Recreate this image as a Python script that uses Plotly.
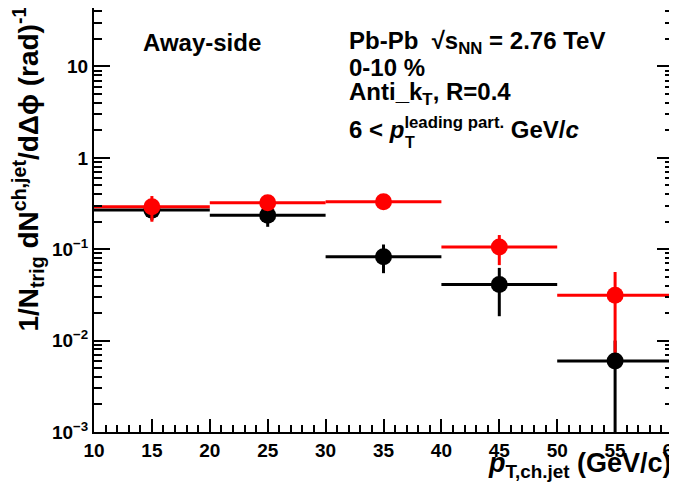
import plotly.graph_objects as go

# Data
pt_centers = [15, 25, 35, 45, 55]
pt_halfwidth = [5, 5, 5, 5, 5]

black_vals = [0.268, 0.236, 0.0827, 0.0411, 0.0060]
black_err_up = [0.07, 0.046, 0.030, 0.0214, 0.004]
black_err_dn = [0.06, 0.060, 0.028, 0.0226, 0.0059]

red_vals = [0.291, 0.322, 0.330, 0.106, 0.0314]
red_err_up = [0.091, 0.02, 0.02, 0.037, 0.025]
red_err_dn = [0.091, 0.02, 0.02, 0.039, 0.024]

y_tickvals = [1e-3, 1e-2, 1e-1, 1, 10]
y_ticktext = ["10<sup>−3</sup>", "10<sup>−2</sup>", "10<sup>−1</sup>", "1", "10"]
x_tickvals = [10, 15, 20, 25, 30, 35, 40, 45, 50, 55, 60]

y_minor = [m * 10 ** e for e in range(-3, 2) for m in range(2, 10)]
x_minor = list(range(10, 61))

FONT = "Liberation Sans, Arial, Helvetica, sans-serif"

# page has an 8px body margin: compensate so the plot frame lands where wanted
PAGE_OFF = 8
W, H = 677 - PAGE_OFF, 491 - PAGE_OFF
# desired plot frame in page pixels
PL, PR, PT, PB = 94, 673, 8, 432
L = PL - PAGE_OFF
T = PT - PAGE_OFF
R = W - (PR - PAGE_OFF)
B = H - (PB - PAGE_OFF)
pw, ph = PR - PL, PB - PT


def px(xp, yp):
    return (xp - PL) / pw, 1 - (yp - PT) / ph


fig = go.Figure()


def add_series(vals, up, dn, color):
    fig.add_trace(go.Scatter(
        x=pt_centers, y=vals, mode="markers",
        marker=dict(color=color, size=17, symbol="circle"),
        error_x=dict(type="data", array=pt_halfwidth, color=color, thickness=3, width=0),
        error_y=dict(type="data", symmetric=False, array=up, arrayminus=dn,
                     color=color, thickness=3, width=0),
        showlegend=False, cliponaxis=True,
    ))


add_series(black_vals, black_err_up, black_err_dn, "black")
add_series(red_vals, red_err_up, red_err_dn, "#ff0000")

fig.update_layout(
    width=W, height=H,
    margin=dict(l=L, r=R, t=T, b=B, autoexpand=False),
    paper_bgcolor="white", plot_bgcolor="white",
    font=dict(family=FONT, color="black"),
    showlegend=False,
)

fig.update_xaxes(
    range=[10, 60], showgrid=False, zeroline=False, automargin=False,
    showline=True, linecolor="black", linewidth=2, mirror=True,
    ticks="inside", ticklen=13, tickwidth=2, tickcolor="black",
    tickmode="array", tickvals=x_tickvals, ticktext=[f"<b>{v}</b>" for v in x_tickvals],
    tickfont=dict(size=19, family=FONT), ticklabeloverflow="allow",
    minor=dict(ticks="inside", ticklen=7, tickwidth=2, tickcolor="black",
               tickmode="array", tickvals=x_minor, showgrid=False),
)

fig.update_yaxes(
    type="log", range=[-3, 1.64], showgrid=False, zeroline=False, automargin=False,
    showline=True, linecolor="black", linewidth=2, mirror="ticks",
    ticks="inside", ticklen=16, tickwidth=2, tickcolor="black",
    tickmode="array", tickvals=y_tickvals, ticktext=[f"<b>{t}</b>" for t in y_ticktext],
    tickfont=dict(size=19, family=FONT), ticklabeloverflow="allow",
    minor=dict(ticks="inside", ticklen=8, tickwidth=2, tickcolor="black",
               tickmode="array", tickvals=y_minor, showgrid=False),
)

annotations = []
yx, yy = px(28, 5)
annotations.append(dict(
    text="<b>1/N<sub>trig</sub> dN<sup>ch,jet</sup>/dΔϕ (rad)<sup>-1</sup></b>",
    x=yx, y=yy, xref="paper", yref="paper", textangle=-90,
    xanchor="center", yanchor="top", showarrow=False, font=dict(size=28)))
tx, ty = px(674, 446)
annotations.append(dict(
    text="<b><i>p</i><sub>T,ch.jet</sub> (GeV/c)</b>",
    x=tx, y=ty, xref="paper", yref="paper",
    xanchor="right", yanchor="top", showarrow=False, font=dict(size=27)))

texts = [
    ("<b>Away-side</b>", 141, 42, 24),
    ("<b>Pb-Pb  √s<sub>NN</sub> = 2.76 TeV</b>", 347, 42, 24),
    ("<b>0-10 %</b>", 347, 68, 24),
    ("<b>Anti_k<sub>T</sub>, R=0.4</b>", 347, 93, 24),
    ("<b>6 < <i>p</i><sup>leading part.</sup> GeV/<i>c</i></b>", 347, 128, 24),
    ("<b>T</b>", 403, 142, 16),
]
for t, xp, yp, s in texts:
    xx, yy = px(xp, yp)
    annotations.append(dict(text=t, x=xx, y=yy, xref="paper", yref="paper",
                            xanchor="left", yanchor="middle", showarrow=False,
                            font=dict(size=s)))
fig.update_layout(annotations=annotations)

fig.write_html("out.html")
